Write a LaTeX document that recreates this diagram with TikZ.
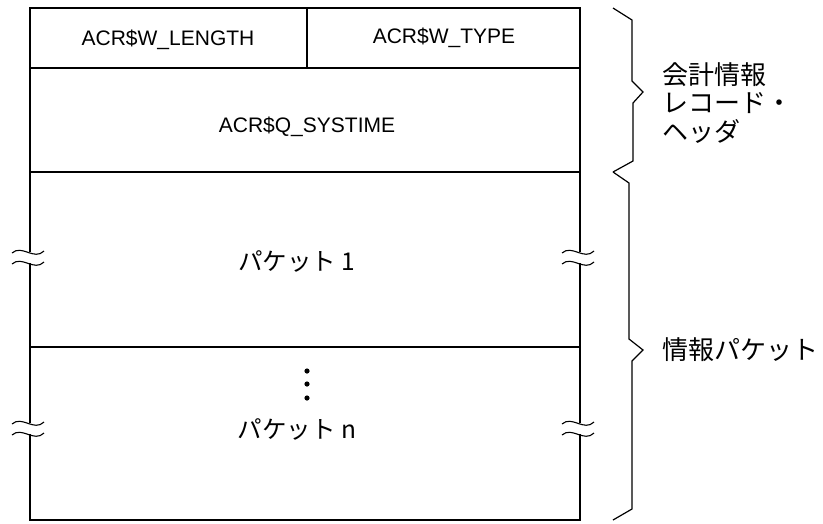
\documentclass[tikz,border=0pt]{standalone}
\usepackage{fontspec}
\setmainfont{Liberation Sans}
\newfontfamily\jpfont{Noto Sans CJK JP}
\usepackage{tikz}
\tikzset{every picture/.style={x=1pt,y=-1pt},
  boxline/.style={line width=1.3pt},
  braceline/.style={line width=1.2pt},
  fieldtext/.style={font=\fontsize{21}{24}\selectfont},
  jptext/.style={font=\jpfont\fontsize{24.5}{28}\selectfont},
  sidetext/.style={font=\jpfont\fontsize{26}{28.5}\selectfont, anchor=west, align=left}}

\begin{document}
\begin{tikzpicture}
        \useasboundingbox (0,0) rectangle (823,523);
        % Record frame and rows
        \draw[boxline] (30,8) rectangle (580,520);
        \draw[boxline] (30,68) -- (580,68);
        \draw[boxline] (307,8) -- (307,68);
        \draw[boxline] (30,172) -- (580,172);
        \draw[boxline] (30,347) -- (580,347);

        % Field names
        \node[fieldtext] (wlen) at (168,40) {ACR\$W\_LENGTH};
        \node[fieldtext] (wtype) at (444,38) {ACR\$W\_TYPE};
        \node[fieldtext] (qsys) at (307,127) {ACR\$Q\_SYSTIME};
        \node[jptext] (pkt1) at (297,261) {パケット 1};
        \node[jptext] (pktn) at (297,429) {パケット n};

        % Dots
        \foreach \y in {371,384,398}
            \fill (307,\y) circle (2.6);

        % Break marks on both sides
        \foreach \x in {30,580} {
            \foreach \y in {252,423} {
                \fill[white] (\x-3,\y) rectangle (\x+3,\y+11);
                \draw[line width=1.1pt] (\x-18,\y+1) .. controls (\x-8,\y-8) and (\x+4,\y+9) .. (\x+14,\y-1);
                \draw[line width=1.1pt] (\x-18,\y+12) .. controls (\x-8,\y+3) and (\x+4,\y+20) .. (\x+14,\y+10);
            }
        }

        % Braces
        \draw[braceline] (613,8) -- (632,20) -- (632,81) -- (643,92) -- (633,103) -- (633,161) -- (613,172);
        \draw[braceline] (613,172) -- (629,183) -- (629,339) -- (643,350) -- (632,361) -- (632,509) -- (613,520);

        % Labels
        \node[sidetext] (hdr) at (659,103) {会計情報\\レコード・\\ヘッダ};
        \node[sidetext] (pkts) at (659,350) {情報パケット};
    \end{tikzpicture}
\end{document}
